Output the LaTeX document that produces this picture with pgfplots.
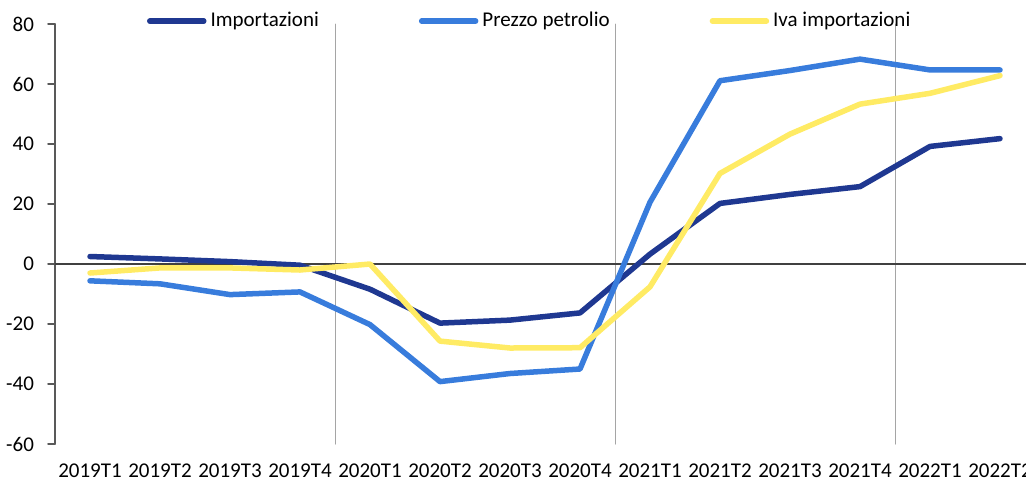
\documentclass[border=0pt]{standalone}
\usepackage{fontspec}
\setmainfont{Carlito}
\usepackage{pgfplots}
\pgfplotsset{compat=1.18}
\usetikzlibrary{calc}
\definecolor{impcol}{RGB}{31,56,145}
\definecolor{petcol}{RGB}{56,124,220}
\definecolor{ivacol}{RGB}{255,235,100}
\definecolor{sepcol}{RGB}{165,165,165}
\begin{document}
\begin{tikzpicture}
\begin{axis}[
    name=ax,
    scale only axis,
    width=490pt, height=210pt,
    xmin=-0.5, xmax=13.5,
    ymin=-60, ymax=80,
    ytick={-60,-40,...,80},
    xtick={0,...,13},
    xticklabels={2019T1,2019T2,2019T3,2019T4,2020T1,2020T2,2020T3,2020T4,2021T1,2021T2,2021T3,2021T4,2022T1,2022T2},
    axis lines*=left,
    axis line style={-},
    x axis line style={draw=none},
    y axis line style={draw=black!65, line width=0.75pt},
    xtick style={draw=none},
    ytick style={draw=black!65, line width=0.75pt},
    tick align=outside,
    major tick length=3.5pt,
    clip=false,
    tick label style={font=\fontsize{10.5}{12}\selectfont},
    /pgf/number format/assume math mode=true,
    yticklabel style={xshift=-3.5pt},
    xticklabel style={yshift=-3pt},
    legend columns=3,
    legend cell align=left,
    legend style={draw=none, fill=none, at={(0.0935,1.007)}, anchor=west,
        inner sep=0pt, font=\fontsize{10.5}{12}\selectfont,
        /tikz/every even column/.append style={column sep=48pt}},
    legend image code/.code={\draw[#1, line width=2.75pt, line cap=round] (0pt,0pt) -- (27pt,0pt);},
    line cap=round, line join=round
]
% separatori annuali e linea dello zero
\addplot[sepcol, line width=0.5pt, forget plot] coordinates {(3.5,-60) (3.5,80)};
\addplot[sepcol, line width=0.5pt, forget plot] coordinates {(7.5,-60) (7.5,80)};
\addplot[sepcol, line width=0.5pt, forget plot] coordinates {(11.5,-60) (11.5,80)};
\addplot[black!75, line width=0.6pt, forget plot] coordinates {(-0.5,0) (13.5,0)};

\addplot[impcol, line width=2.75pt] coordinates {
    (0,2.5) (1,1.7) (2,0.8) (3,-0.4) (4,-8.4) (5,-19.7) (6,-18.7) (7,-16.3)
    (8,3.3) (9,20.2) (10,23.2) (11,25.8) (12,39.2) (13,41.8)};
\addlegendentry{Importazioni}

\addplot[petcol, line width=2.75pt] coordinates {
    (0,-5.6) (1,-6.6) (2,-10.2) (3,-9.3) (4,-20.2) (5,-39.2) (6,-36.5) (7,-35)
    (8,20.6) (9,61.1) (10,64.5) (11,68.3) (12,64.7) (13,64.7)};
\addlegendentry{Prezzo petrolio}

\addplot[ivacol, line width=2.75pt] coordinates {
    (0,-3) (1,-1.3) (2,-1.3) (3,-2) (4,0) (5,-25.7) (6,-28) (7,-27.9)
    (8,-7.6) (9,30.2) (10,43.3) (11,53.3) (12,56.9) (13,62.8)};
\addlegendentry{Iva importazioni}
\end{axis}
\pgfresetboundingbox
\useasboundingbox ($(ax.south west)+(-27.5pt,-17.5pt)$) rectangle ($(ax.south west)+(485.5pt,222pt)$);
\end{tikzpicture}
\end{document}
